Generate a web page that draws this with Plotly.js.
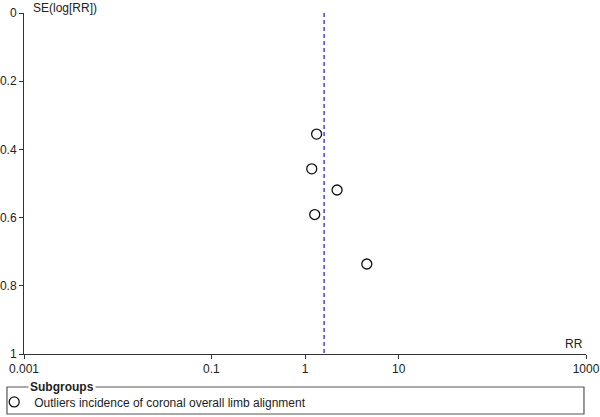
<!DOCTYPE html>
<html>
<head>
<meta charset="utf-8">
<script src="https://cdn.plot.ly/plotly-3.0.1.min.js"></script>
<style>html,body{margin:0;padding:0;background:#fff}#chart{width:600px;height:417px}</style>
</head>
<body>
<div id="chart"></div>
<script>
// Study estimates (risk ratio) and their standard errors of log(RR)
const studyRR = [1.33, 1.18, 2.20, 1.27, 4.57];
const studySE = [0.355, 0.457, 0.519, 0.591, 0.736];
// Pooled estimate line
const pooledRR = 1.6;
const seRange = [0, 1];
const subgroupName = 'Outliers incidence of coronal overall limb alignment';
const xTickVals = [0.001, 0.1, 1, 10, 1000];
const xTickText = ['0.001', '0.1', '1', '10', '1000'];
const yTickVals = [0, 0.2, 0.4, 0.6, 0.8, 1];
const yTickText = ['0', '0.2', '0.4', '0.6', '0.8', '1'];

const traces = [
  {
    x: [pooledRR, pooledRR], y: seRange, mode: 'lines', type: 'scatter',
    line: {color: '#5252d8', width: 1.6, dash: '4px,3px'},
    showlegend: false, hoverinfo: 'skip'
  },
  {
    x: studyRR, y: studySE, mode: 'markers', type: 'scatter', name: subgroupName,
    marker: {symbol: 'circle-open', size: 10, color: '#111', line: {width: 1.3, color: '#111'}},
    showlegend: true
  }
];

const layout = {
  width: 600, height: 417,
  margin: {l: 24, r: 14, t: 13, b: 63, autoexpand: false},
  paper_bgcolor: '#fff', plot_bgcolor: '#fff',
  font: {family: 'Liberation Sans, Arial, sans-serif', size: 12, color: '#222'},
  xaxis: {
    type: 'log', range: [-3, 3], tickvals: xTickVals, ticktext: xTickText,
    showgrid: false, zeroline: false, showline: true, linecolor: '#333', linewidth: 1,
    ticks: 'outside', ticklen: 4, tickcolor: '#333', tickfont: {size: 12}, automargin: false
  },
  yaxis: {
    range: [1, 0], tickvals: yTickVals, ticktext: yTickText,
    showgrid: false, zeroline: false, showline: true, linecolor: '#333', linewidth: 1,
    ticks: 'outside', ticklen: 4, tickcolor: '#333', tickfont: {size: 12}, automargin: false
  },
  showlegend: true,
  legend: {
    x: -0.053, xanchor: 'left', y: -0.098, yanchor: 'top',
    bgcolor: 'rgba(0,0,0,0)', borderwidth: 0, font: {size: 12, color: '#222'},
    itemwidth: 30
  },
  shapes: [
    {type: 'rect', xref: 'paper', yref: 'paper', x0: -0.0303, x1: 0.9964, y0: -0.0968, y1: -0.1760,
     line: {color: '#555', width: 1.2}, fillcolor: 'rgba(0,0,0,0)'}
  ],
  annotations: [
    {text: 'SE(log[RR])', xref: 'paper', yref: 'paper', x: 0, y: 1, xanchor: 'left', yanchor: 'middle',
     xshift: 7, yshift: 5, showarrow: false, font: {size: 12, color: '#222'}},
    {text: 'RR', xref: 'paper', yref: 'paper', x: 1, y: 0, xanchor: 'right', yanchor: 'bottom',
     xshift: -1, yshift: 1, showarrow: false, font: {size: 12, color: '#222'}},
    {text: '<b>Subgroups</b>', xref: 'paper', yref: 'paper', x: -0.0303, y: -0.0968, xanchor: 'left', yanchor: 'middle',
     xshift: 21, yshift: 0, showarrow: false, bgcolor: '#fff', borderpad: 1, font: {size: 12, color: '#222'}}
  ]
};

Plotly.newPlot('chart', traces, layout, {displayModeBar: false, staticPlot: true});
</script>
</body>
</html>
